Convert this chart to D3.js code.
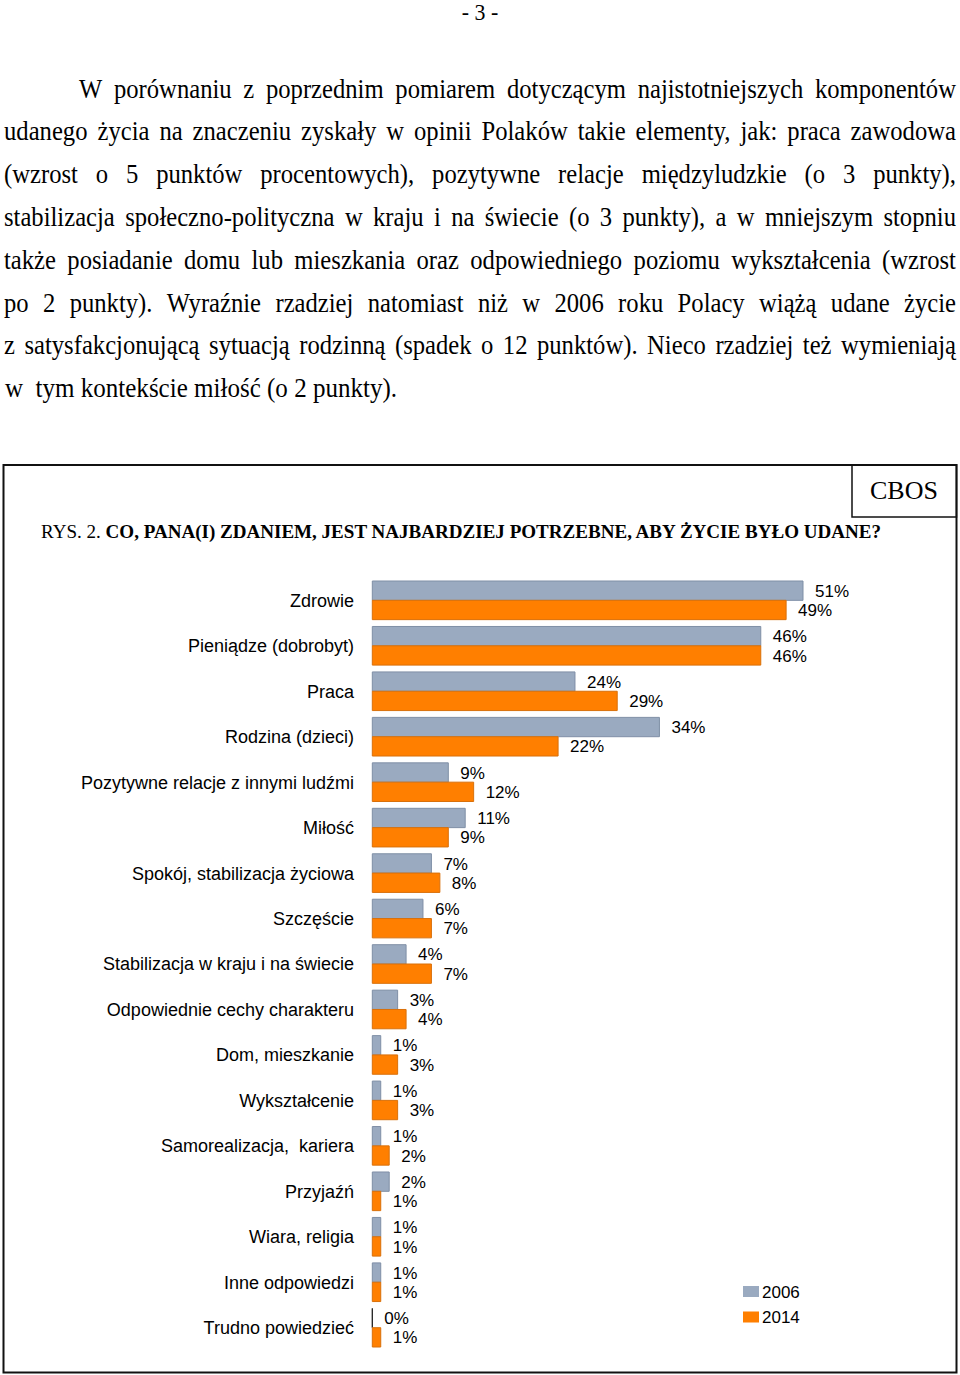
<!DOCTYPE html>
<html>
<head>
<meta charset="utf-8">
<script src="https://cdn.jsdelivr.net/npm/d3@7"></script>
<style>
  html, body { margin: 0; padding: 0; background: #fff; }
  svg { display: block; }
</style>
</head>
<body>
<script>
// ---------- DATA ----------
const pageNumber = "- 3 -";
const paragraphLines = [
  "W porównaniu z poprzednim pomiarem dotyczącym najistotniejszych komponentów",
  "udanego życia na znaczeniu zyskały w opinii Polaków takie elementy, jak: praca zawodowa",
  "(wzrost o 5 punktów procentowych), pozytywne relacje międzyludzkie (o 3 punkty),",
  "stabilizacja społeczno-polityczna w kraju i na świecie (o 3 punkty), a w mniejszym stopniu",
  "także posiadanie domu lub mieszkania oraz odpowiedniego poziomu wykształcenia (wzrost",
  "po 2 punkty). Wyraźnie rzadziej natomiast niż w 2006 roku Polacy wiążą udane życie",
  "z satysfakcjonującą sytuacją rodzinną (spadek o 12 punktów). Nieco rzadziej też wymieniają",
  "w  tym kontekście miłość (o 2 punkty)."
];
const sourceLabel = "CBOS";
const titlePrefix = "RYS. 2. ";
const titleMain = "CO, PANA(I) ZDANIEM, JEST NAJBARDZIEJ POTRZEBNE, ABY ŻYCIE BYŁO UDANE?";

const categories = [
  "Zdrowie", "Pieniądze (dobrobyt)", "Praca", "Rodzina (dzieci)",
  "Pozytywne relacje z innymi ludźmi", "Miłość", "Spokój, stabilizacja życiowa",
  "Szczęście", "Stabilizacja w kraju i na świecie", "Odpowiednie cechy charakteru",
  "Dom, mieszkanie", "Wykształcenie", "Samorealizacja,  kariera", "Przyjaźń",
  "Wiara, religia", "Inne odpowiedzi", "Trudno powiedzieć"
];
const seriesNames = ["2006", "2014"];
const values2006 = [51, 46, 24, 34, 9, 11, 7, 6, 4, 3, 1, 1, 1, 2, 1, 1, 0];
const values2014 = [49, 46, 29, 22, 12, 9, 8, 7, 7, 4, 3, 3, 2, 1, 1, 1, 1];

// ---------- STYLE ----------
const W = 960, H = 1375;
const serif = "'Liberation Serif', 'Times New Roman', serif";
const sans = "'Liberation Sans', Arial, sans-serif";
const fills = { "2006": "#9aaac0", "2014": "#ff7f00" };
const strokes = { "2006": "#7f8fa6", "2014": "#d9700a" };

const svg = d3.select("body").append("svg")
  .attr("width", W).attr("height", H)
  .attr("xmlns", "http://www.w3.org/2000/svg");

// ---------- PAGE TEXT ----------
svg.append("text")
  .attr("transform", "translate(480,20) scale(0.95,1)")
  .attr("text-anchor", "middle")
  .style("font-family", serif).style("font-size", "23px")
  .text(pageNumber);

const paraFont = 26.5, sx = 0.93;
const lineY0 = 97.5, lineStep = 42.8;
const textRight = 956;
paragraphLines.forEach((line, i) => {
  const y = lineY0 + i * lineStep;
  const left = i === 0 ? 79 : 4;
  const last = i === paragraphLines.length - 1;
  if (last) {
    svg.append("text")
      .attr("transform", `translate(${left + 1},${y}) scale(${sx},1)`)
      .attr("xml:space", "preserve")
      .attr("textLength", 392 / sx).attr("lengthAdjust", "spacingAndGlyphs")
      .style("white-space", "pre")
      .style("font-family", serif).style("font-size", paraFont + "px")
      .text(line);
    return;
  }
  const words = line.split(/\s+/);
  const g = svg.append("g");
  const nodes = words.map(w => g.append("text")
    .style("font-family", serif).style("font-size", paraFont + "px")
    .text(w));
  const widths = nodes.map(n => n.node().getComputedTextLength() * sx);
  const total = d3.sum(widths);
  const gap = (textRight - left - total) / (words.length - 1);
  let x = left;
  nodes.forEach((n, k) => {
    n.attr("transform", `translate(${x},${y}) scale(${sx},1)`);
    x += widths[k] + gap;
  });
});

// ---------- FRAME ----------
svg.append("rect")
  .attr("x", 3.5).attr("y", 465).attr("width", 953).attr("height", 907.5)
  .attr("fill", "none").attr("stroke", "#111").attr("stroke-width", 2);
svg.append("rect")
  .attr("x", 852).attr("y", 465).attr("width", 104.5).attr("height", 52)
  .attr("fill", "none").attr("stroke", "#111").attr("stroke-width", 1.5);
svg.append("text")
  .attr("x", 904).attr("y", 499)
  .attr("text-anchor", "middle")
  .style("font-family", serif).style("font-size", "26px")
  .text(sourceLabel);

const title = svg.append("text")
  .attr("x", 41).attr("y", 538)
  .attr("textLength", 840).attr("lengthAdjust", "spacingAndGlyphs")
  .style("font-family", serif).style("font-size", "18.5px");
title.append("tspan").text(titlePrefix);
title.append("tspan").style("font-weight", "bold").text(titleMain);

// ---------- CHART ----------
const x = d3.scaleLinear().domain([0, 51]).range([372.3, 803]);
const y = d3.scaleBand().domain(categories)
  .range([577.6, 577.6 + 17 * 45.46])
  .paddingInner(0.15).paddingOuter(0.075);
const ySub = d3.scaleBand().domain(seriesNames).range([0, y.bandwidth()]);

const rows = categories.map((c, i) => ({
  cat: c,
  vals: [{ s: "2006", v: values2006[i] }, { s: "2014", v: values2014[i] }]
}));

const chart = svg.append("g");
const group = chart.selectAll("g.row").data(rows).join("g")
  .attr("class", "row")
  .attr("transform", d => `translate(0,${y(d.cat)})`);

group.selectAll("path.bar").data(d => d.vals).join("path")
  .attr("class", "bar")
  .attr("d", d => {
    const x0 = x(0), w = x(d.v) - x(0), y0 = ySub(d.s), h = ySub.bandwidth();
    return `M${x0},${y0}h${w}v${h}h${-w}Z`;
  })
  .attr("fill", d => fills[d.s])
  .attr("stroke", d => d.v === 0 ? "#222" : strokes[d.s])
  .attr("stroke-width", 1);

group.selectAll("text.val").data(d => d.vals).join("text")
  .attr("class", "val")
  .attr("x", d => x(d.v) + 12)
  .attr("y", d => ySub(d.s) + ySub.bandwidth() / 2)
  .attr("dy", "0.36em")
  .style("font-family", sans).style("font-size", "17px").attr("fill", "#000")
  .text(d => d.v + "%");

// category axis (labels only)
const yAxis = d3.axisLeft(y).tickSize(0).tickPadding(0);
const axisG = chart.append("g").attr("transform", "translate(354,0)").call(yAxis);
axisG.select(".domain").remove();
axisG.selectAll("text")
  .style("font-family", sans).style("font-size", "18px").attr("fill", "#000")
  .attr("xml:space", "preserve").style("white-space", "pre")
  .attr("dy", "0.36em");

// ---------- LEGEND ----------
const legend = svg.append("g").attr("transform", "translate(743,1286)");
const lg = legend.selectAll("g").data(seriesNames).join("g")
  .attr("transform", (d, i) => `translate(0,${i * 25.5})`);
lg.append("rect").attr("width", 16).attr("height", 11)
  .attr("fill", d => fills[d]);
lg.append("text").attr("x", 19).attr("y", 5.5).attr("dy", "0.36em")
  .style("font-family", sans).style("font-size", "17px")
  .text(d => d);
</script>
</body>
</html>
